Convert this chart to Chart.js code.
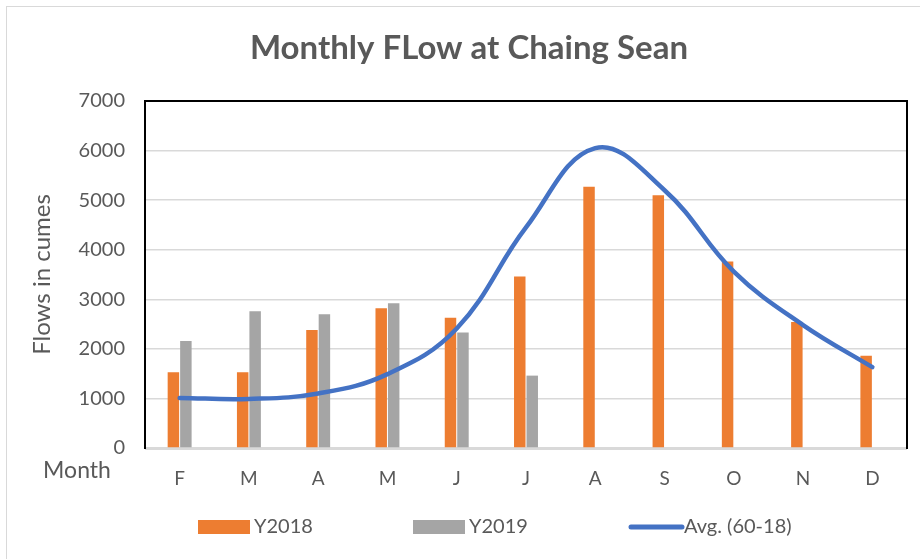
<!DOCTYPE html>
<html>
<head>
<meta charset="utf-8">
<script src="https://cdn.jsdelivr.net/npm/chart.js@4"></script>
<style>
  html, body { margin: 0; padding: 0; background: #fff; }
  #wrap { width: 920px; height: 559px; }
</style>
</head>
<body>
<div id="wrap"><canvas id="c" width="920" height="559"></canvas></div>
<script>
const categories = ['F','M','A','M','J','J','A','S','O','N','D'];
const y2018 = [1530, 1530, 2380, 2820, 2630, 3460, 5270, 5100, 3760, 2540, 1860];
const y2019 = [2160, 2760, 2700, 2920, 2330, 1460, null, null, null, null, null];
const avg6018 = [1010, 990, 1100, 1490, 2410, 4450, 6050, 5200, 3560, 2480, 1630];
const yTicks = [0, 1000, 2000, 3000, 4000, 5000, 6000, 7000];
const seriesNames = ['Y2018', 'Y2019', 'Avg. (60-18)'];
const titleText = 'Monthly FLow at Chaing Sean';
const yTitle = 'Flows in cumes';
const xCorner = 'Month';

const FONT = 'Lato, "Open Sans", sans-serif';
const TXT = '#595959';

const decor = {
  id: 'decor',
  beforeDraw(chart) {
    const ctx = chart.ctx;
    ctx.save();
    ctx.fillStyle = '#fff';
    ctx.fillRect(0, 0, chart.width, chart.height);
    ctx.strokeStyle = '#d9d9d9';
    ctx.lineWidth = 1;
    ctx.strokeRect(6.5, 6.5, 2000, 2000);
    ctx.restore();
  },
  beforeDatasetsDraw(chart) {
    const ctx = chart.ctx, a = chart.chartArea;
    ctx.save();
    ctx.strokeStyle = '#d9d9d9';
    ctx.lineWidth = 3;
    ctx.beginPath();
    ctx.moveTo(a.left, a.bottom + 0.5);
    ctx.lineTo(a.right, a.bottom + 0.5);
    ctx.stroke();
    ctx.strokeStyle = '#000';
    ctx.lineWidth = 2;
    ctx.beginPath();
    ctx.moveTo(a.left, a.bottom + 1);
    ctx.lineTo(a.left, a.top);
    ctx.lineTo(a.right, a.top);
    ctx.lineTo(a.right, a.bottom + 1);
    ctx.stroke();
    ctx.restore();
  },
  afterDraw(chart) {
    const ctx = chart.ctx;
    ctx.save();
    // title
    ctx.fillStyle = TXT;
    ctx.font = 'bold 33px ' + FONT;
    ctx.textAlign = 'center';
    ctx.textBaseline = 'alphabetic';
    ctx.fillText(titleText, 469, 59);
    // corner label
    ctx.font = '23px ' + FONT;
    ctx.textAlign = 'center';
    ctx.textBaseline = 'middle';
    ctx.fillText(xCorner, 77, 471);
    // legend
    const xs = [198, 413, 628];
    const ly = 527;
    chart.data.datasets.forEach((ds, i) => {
      const x = xs[i];
      if (ds.type === 'line') {
        ctx.strokeStyle = ds.borderColor;
        ctx.lineWidth = 5;
        ctx.lineCap = 'round';
        ctx.beginPath();
        ctx.moveTo(x + 3, ly);
        ctx.lineTo(x + 54, ly);
        ctx.stroke();
      } else {
        ctx.fillStyle = ds.backgroundColor;
        ctx.fillRect(x, ly - 7, 52, 14);
      }
      ctx.fillStyle = TXT;
      ctx.font = '20px ' + FONT;
      ctx.textAlign = 'left';
      ctx.textBaseline = 'middle';
      ctx.fillText(ds.label, x + 56, ly);
    });
    ctx.restore();
  }
};

new Chart(document.getElementById('c'), {
  type: 'bar',
  data: {
    labels: categories,
    datasets: [
      { label: seriesNames[0], data: y2018, backgroundColor: '#ED7D31', order: 1,
        categoryPercentage: 0.36, barPercentage: 0.92 },
      { label: seriesNames[1], data: y2019, backgroundColor: '#A5A5A5', order: 1,
        categoryPercentage: 0.36, barPercentage: 0.92 },
      { type: 'line', label: seriesNames[2], data: avg6018, borderColor: '#4472C4', backgroundColor: '#4472C4',
        borderWidth: 4.5, pointRadius: 0, tension: 0.4, borderCapStyle: 'round', fill: false, order: 0 }
    ]
  },
  options: {
    responsive: false,
    animation: false,
    devicePixelRatio: 1,
    layout: { padding: { left: 0, top: 101, right: 13, bottom: 72 } },
    plugins: { legend: { display: false }, tooltip: { enabled: false }, title: { display: false } },
    scales: {
      x: {
        grid: { display: false, drawTicks: false },
        border: { display: false },
        ticks: { color: TXT, font: { family: FONT, size: 19 }, padding: 19 },
        afterFit(s) { s.height = 39; }
      },
      y: {
        min: 0, max: 7000,
        afterBuildTicks(s) { s.ticks = yTicks.map(v => ({ value: v })); },
        grid: { color: '#d9d9d9', lineWidth: 1.5, drawTicks: false },
        border: { display: false },
        ticks: { color: TXT, font: { family: FONT, size: 20 }, padding: 20, callback: v => String(v) },
        title: { display: true, text: yTitle, color: TXT, font: { family: FONT, size: 24 }, padding: { top: 28, bottom: 0 } },
        afterFit(s) { s.width = 145; }
      }
    }
  },
  plugins: [decor]
});
</script>
</body>
</html>
